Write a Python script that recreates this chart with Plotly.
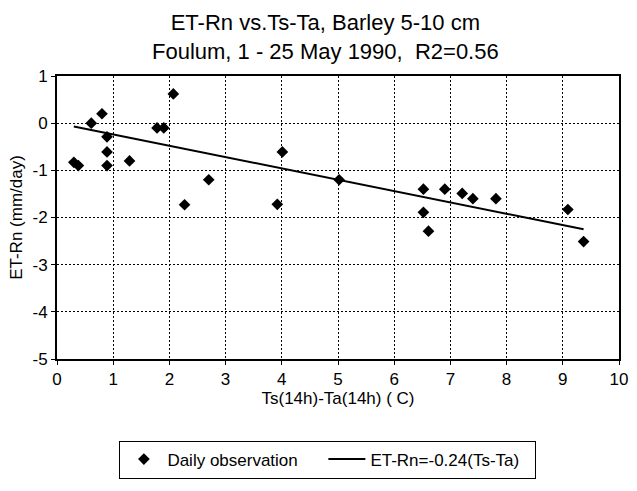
import plotly.graph_objects as go

ts_minus_ta = [0.30, 0.38, 0.61, 0.80, 0.89, 0.89, 0.89, 1.29, 1.78, 1.90, 2.07,
               2.27, 2.70, 3.92, 4.01, 5.02, 6.52, 6.52, 6.61, 6.90, 7.21, 7.40,
               7.81, 9.09, 9.37]
et_minus_rn = [-0.83, -0.90, 0.00, 0.20, -0.29, -0.61, -0.90, -0.80, -0.10, -0.10, 0.62,
               -1.73, -1.20, -1.72, -0.61, -1.20, -1.40, -1.89, -2.29, -1.40, -1.49, -1.60,
               -1.60, -1.83, -2.51]

fit_slope = -0.24
fit_x = [min(ts_minus_ta), max(ts_minus_ta)]
fit_y = [fit_slope * v for v in fit_x]

x_ticks = list(range(0, 11))
y_ticks = list(range(-5, 2))

title_lines = ["ET-Rn vs.Ts-Ta, Barley 5-10 cm", "Foulum, 1 - 25 May 1990,\u00a0 R2=0.56"]

FONT = "Liberation Sans, Arial, Helvetica, sans-serif"

fig = go.Figure()
fig.add_trace(go.Scatter(
    x=ts_minus_ta, y=et_minus_rn, mode="markers", name="Daily observation",
    marker=dict(symbol="diamond", size=9, color="black", line=dict(width=0)),
))
fig.add_trace(go.Scatter(
    x=fit_x, y=fit_y, mode="lines", name="ET-Rn=-0.24(Ts-Ta)",
    line=dict(color="black", width=2), legendwidth=160,
))

axis_common = dict(
    showline=True, linecolor="black", linewidth=2, mirror=True,
    showgrid=True, gridcolor="black", gridwidth=1, griddash="2px,2px",
    zeroline=False, ticks="outside", ticklen=4, tickcolor="black", tickwidth=1,
    tickfont=dict(family=FONT, size=17, color="black"),
    automargin=False,
)

fig.update_layout(
    width=637, height=491,
    paper_bgcolor="white", plot_bgcolor="white",
    margin=dict(l=57, r=18, t=76, b=119),
    font=dict(family=FONT, color="black"),
    annotations=[dict(
        text="<br>".join(title_lines), xref="paper", yref="paper",
        x=0.477, y=1.1385, xanchor="center", yanchor="middle", showarrow=False,
        font=dict(family=FONT, size=22, color="black"),
    )],
    xaxis=dict(
        range=[0, 10], tickvals=x_ticks, ticktext=[str(v) for v in x_ticks],
        title=dict(text="Ts(14h)-Ta(14h) ( C)", font=dict(family=FONT, size=17, color="black"), standoff=4),
        **axis_common,
    ),
    yaxis=dict(
        range=[-5, 1], tickvals=y_ticks, ticktext=[str(v) for v in y_ticks],
        title=dict(text="ET-Rn (mm/day)", font=dict(family=FONT, size=17, color="black"), standoff=6),
        **axis_common,
    ),
    showlegend=True,
    legend=dict(
        orientation="h", x=0.111, xanchor="left", y=-0.288, yanchor="top",
        bordercolor="black", borderwidth=1, bgcolor="white",
        font=dict(family=FONT, size=17, color="black"),
        entrywidth=151, entrywidthmode="pixels",
        itemwidth=37,
    ),
)

fig.write_html(
    "out.html",
    config={"displayModeBar": False},
    post_script="document.body.style.margin='0';document.body.style.overflow='hidden';",
)
